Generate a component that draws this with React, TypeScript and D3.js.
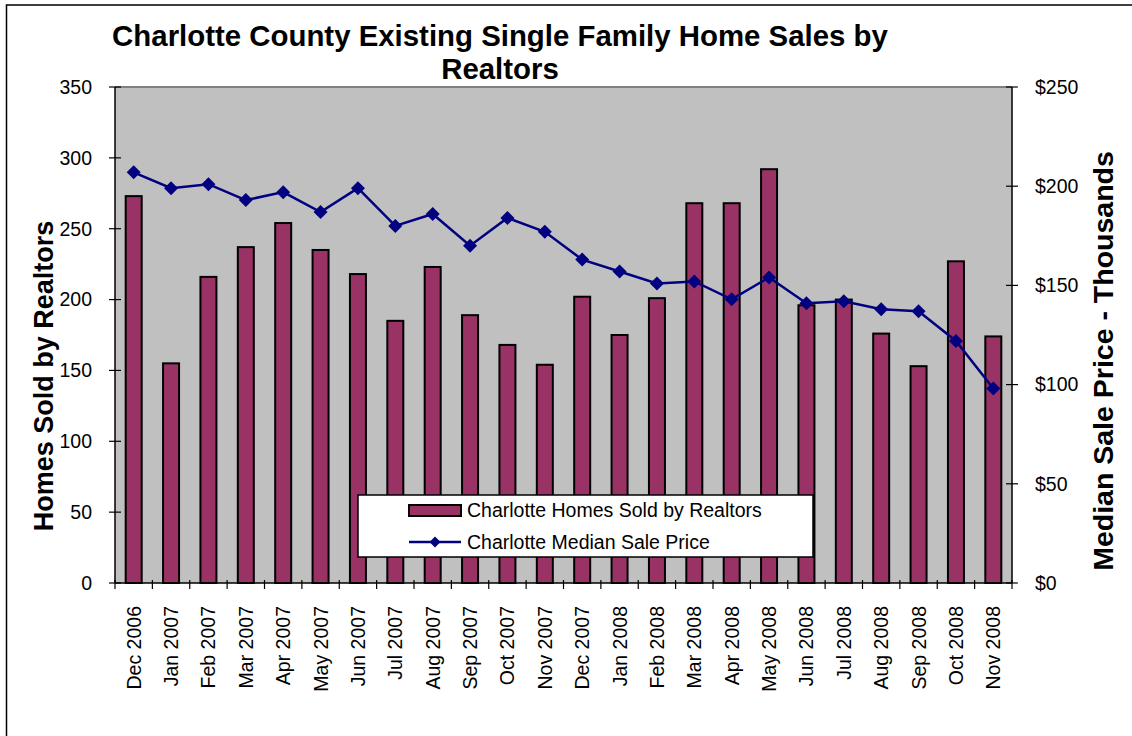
import React from "react";
import * as d3 from "d3";

const categories = [
  "Dec 2006", "Jan 2007", "Feb 2007", "Mar 2007", "Apr 2007", "May 2007", "Jun 2007",
  "Jul 2007", "Aug 2007", "Sep 2007", "Oct 2007", "Nov 2007", "Dec 2007", "Jan 2008",
  "Feb 2008", "Mar 2008", "Apr 2008", "May 2008", "Jun 2008", "Jul 2008", "Aug 2008",
  "Sep 2008", "Oct 2008", "Nov 2008",
];
const homesSold = [273, 155, 216, 237, 254, 235, 218, 185, 223, 189, 168, 154, 202, 175, 201, 268, 268, 292, 196, 200, 176, 153, 227, 174];
const medianPrice = [207, 199, 201, 193, 197, 187, 199, 180, 186, 170, 184, 177, 163, 157, 151, 152, 143, 154, 141, 142, 138, 137, 122, 98];
const leftTicks = [0, 50, 100, 150, 200, 250, 300, 350];
const rightTicks = [0, 50, 100, 150, 200, 250];

const FONT = "'Liberation Sans', Arial, Helvetica, sans-serif";

export default function App() {
  const L = 115, R = 1012, T = 87, B = 583;
  const x = d3.scaleBand().domain(categories).range([L, R]).padding(0);
  const yL = d3.scaleLinear().domain([0, 350]).range([B, T]);
  const yR = d3.scaleLinear().domain([0, 250]).range([B, T]);
  const barW = 16;
  const line = d3.line<number>()
    .x((_, i) => (x(categories[i]) as number) + x.bandwidth() / 2)
    .y((d) => yR(d));
  const diamond = (cx: number, cy: number, r: number) =>
    `M${cx},${cy - r}L${cx + r},${cy}L${cx},${cy + r}L${cx - r},${cy}Z`;

  return (
    <svg width={1132} height={736} style={{ position: "absolute", left: 0, top: 0, background: "#fff" }} fontFamily={FONT}>
      <rect x={6.5} y={5} width={1130} height={740} fill="#fff" stroke="#000" strokeWidth={1.5} />
      {/* title */}
      <text x={500} y={46} textAnchor="middle" fontSize={29.4} fontWeight="bold">
        Charlotte County Existing Single Family Home Sales by
      </text>
      <text x={500} y={79} textAnchor="middle" fontSize={29.4} fontWeight="bold">Realtors</text>

      {/* plot area */}
      <rect x={L} y={T} width={R - L} height={B - T} fill="#C0C0C0" />
      <line x1={L} x2={R} y1={T} y2={T} stroke="#808080" strokeWidth={2} />

      {/* bars */}
      {homesSold.map((v, i) => {
        const cx = (x(categories[i]) as number) + x.bandwidth() / 2;
        return (
          <rect key={i} x={cx - barW / 2} y={yL(v)} width={barW} height={B - yL(v)}
            fill="#993366" stroke="#000" strokeWidth={2} />
        );
      })}

      {/* line */}
      <path d={line(medianPrice) || ""} fill="none" stroke="#000080" strokeWidth={2.5} />
      {medianPrice.map((v, i) => {
        const cx = (x(categories[i]) as number) + x.bandwidth() / 2;
        return <path key={i} d={diamond(cx, yR(v), 7)} fill="#000080" />;
      })}

      {/* axes */}
      <line x1={L} x2={L} y1={T} y2={B} stroke="#000" strokeWidth={1.5} />
      <line x1={R} x2={R} y1={T} y2={B} stroke="#000" strokeWidth={1.5} />
      <line x1={L} x2={R} y1={B} y2={B} stroke="#000" strokeWidth={1.5} />
      {leftTicks.map((t) => (
        <g key={"l" + t}>
          <line x1={L - 6} x2={L + 6} y1={yL(t)} y2={yL(t)} stroke="#000" strokeWidth={1.2} />
          <text x={92} y={yL(t)} dy="0.35em" textAnchor="end" fontSize={19.5}>{t}</text>
        </g>
      ))}
      {rightTicks.map((t) => (
        <g key={"r" + t}>
          <line x1={R - 6} x2={R + 6} y1={yR(t)} y2={yR(t)} stroke="#000" strokeWidth={1.2} />
          <text x={1035} y={yR(t)} dy="0.35em" textAnchor="start" fontSize={19.5}>{"$" + t}</text>
        </g>
      ))}
      {categories.concat(["__end"]).map((c, i) => {
        const tx = L + i * x.bandwidth();
        return <line key={"x" + i} x1={tx} x2={tx} y1={B - 3} y2={B + 6} stroke="#000" strokeWidth={1.2} />;
      })}
      {categories.map((c) => {
        const cx = (x(c) as number) + x.bandwidth() / 2;
        return (
          <text key={c} transform={`translate(${cx + 7},606) rotate(-90)`} textAnchor="end" fontSize={19.5}>{c}</text>
        );
      })}

      {/* axis titles */}
      <text transform="translate(53,376) rotate(-90)" textAnchor="middle" fontSize={27} fontWeight="bold">
        Homes Sold by Realtors
      </text>
      <text transform="translate(1113,361) rotate(-90)" textAnchor="middle" fontSize={28.5} fontWeight="bold">
        Median Sale Price - Thousands
      </text>

      {/* legend */}
      <rect x={358} y={495} width={455} height={62} fill="#fff" stroke="#000" strokeWidth={1.5} />
      <rect x={409} y={505} width={52} height={11} fill="#993366" stroke="#000" strokeWidth={2} />
      <text x={467} y={510.5} dy="0.35em" fontSize={19.5}>Charlotte Homes Sold by Realtors</text>
      <line x1={409} x2={461} y1={542} y2={542} stroke="#000080" strokeWidth={2.5} />
      <path d={diamond(435, 542, 5.5)} fill="#000080" />
      <text x={467} y={542} dy="0.35em" fontSize={19.5}>Charlotte Median Sale Price</text>
    </svg>
  );
}
